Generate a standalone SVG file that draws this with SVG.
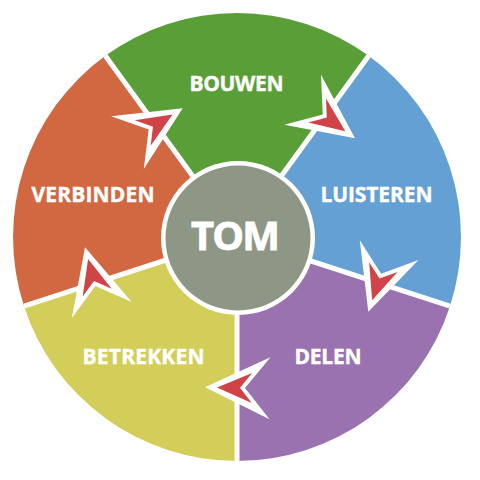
<svg xmlns="http://www.w3.org/2000/svg" xmlns:xlink="http://www.w3.org/1999/xlink" width="480" height="480" viewBox="0 0 480 480">
<style>
.lbl{font-family:"Open Sans","Liberation Sans",sans-serif;font-weight:700;font-size:21px;fill:#ffffff;stroke:#ffffff;stroke-width:0.4;text-anchor:middle}
.div{stroke:#ffffff;stroke-width:5;fill:none}
.aw{fill:#ffffff}
.ar{fill:#d04448}
</style>
<defs>
<g id="arr">
<polygon class="aw" points="0,0 -65,-31 -40,0 -65,31"/>
<polygon class="ar" points="-12,0 -47,-15 -35,0 -47,15"/>
</g>
</defs>
<rect width="480" height="480" fill="#ffffff"/>
<g id="bouwen">
<path d="M237,237 L105.3,55.8 A224,224 0 0 1 368.7,55.8 Z" fill="#599e37"/>
<text class="lbl" x="236.5" y="90.7" textLength="94" lengthAdjust="spacing">BOUWEN</text>
</g>
<g id="luisteren">
<path d="M237,237 L368.7,55.8 A224,224 0 0 1 450,306.2 Z" fill="#64a0d4"/>
<text class="lbl" x="376.5" y="202" textLength="112" lengthAdjust="spacing">LUISTEREN</text>
</g>
<g id="delen">
<path d="M237,237 L450,306.2 A224,224 0 0 1 237,461 Z" fill="#9b72b0"/>
<text class="lbl" x="328" y="364" textLength="67" lengthAdjust="spacing">DELEN</text>
</g>
<g id="betrekken">
<path d="M237,237 L237,461 A224,224 0 0 1 24,306.2 Z" fill="#d2ce59"/>
<text class="lbl" x="143.5" y="364" textLength="122" lengthAdjust="spacing">BETREKKEN</text>
</g>
<g id="verbinden">
<path d="M237,237 L24,306.2 A224,224 0 0 1 105.3,55.8 Z" fill="#d16841"/>
<text class="lbl" x="93" y="202" textLength="123" lengthAdjust="spacing">VERBINDEN</text>
</g>
<g id="dividers">
<line class="div" x1="237" y1="237" x2="105.3" y2="55.8"/>
<line class="div" x1="237" y1="237" x2="368.7" y2="55.8"/>
<line class="div" x1="237" y1="237" x2="450" y2="306.2"/>
<line class="div" x1="237" y1="237" x2="237" y2="461"/>
<line class="div" x1="237" y1="237" x2="24" y2="306.2"/>
</g>
<g id="tom">
<circle cx="238" cy="238" r="77" fill="#ffffff"/>
<circle cx="238" cy="238" r="72.5" fill="#8e9686"/>
<text class="lbl" x="235.5" y="250" style="font-size:40px;stroke-width:0.8" textLength="89" lengthAdjust="spacing">TOM</text>
</g>
<g id="connectors">
<use xlink:href="#arr" transform="translate(182.7,108.3) rotate(-31.8)"/>
<use xlink:href="#arr" transform="translate(355,138.3) rotate(36.3)"/>
<use xlink:href="#arr" transform="translate(368.3,311.7) rotate(108.7)"/>
<use xlink:href="#arr" transform="translate(205,387.3) rotate(180.9)"/>
<use xlink:href="#arr" transform="translate(85,247.3) rotate(255)"/>
</g>
</svg>
